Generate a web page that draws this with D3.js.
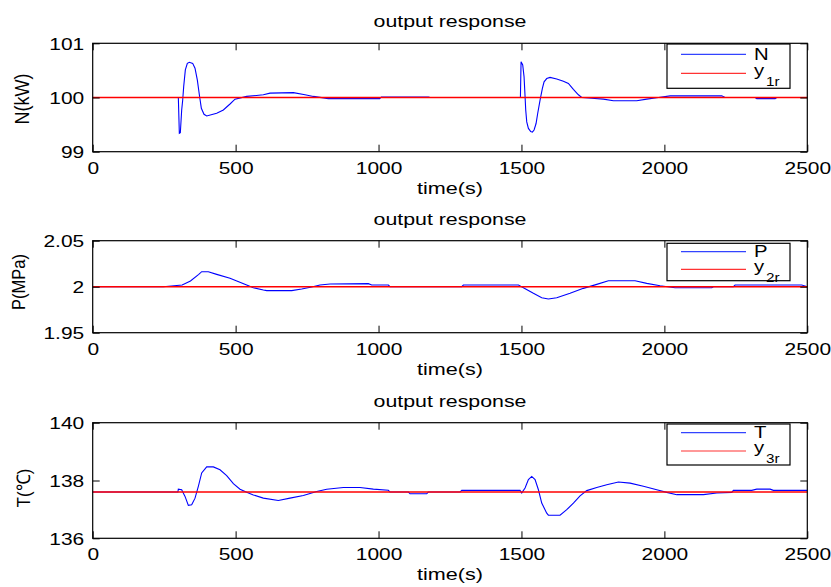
<!DOCTYPE html>
<html><head><meta charset="utf-8">
<script src="https://cdn.jsdelivr.net/npm/d3@7"></script>
<style>
body{margin:0;background:#fff}
svg{display:block}
text{font-family:"Liberation Sans",Arial,sans-serif;fill:#000}
</style>
</head><body>
<svg id="c" width="831" height="587"></svg>
<script>
// ---------------- data ----------------
const chartTitle = "output response";
const xLabel = "time(s)";
const timeTicks = [0, 500, 1000, 1500, 2000, 2500];

// Panel 1: N (kW)
const yLabelN = "N(kW)";
const yTicksN = [99, 100, 101];
const refN = 100;
const tN = [0, 299.6, 303.1, 306.6, 311.3, 314.8, 318.3, 324.1, 331.1, 338.1, 349.8, 357.9, 366.1, 373.1, 380.1, 389.4, 398.8, 433.8, 457.1, 480.4, 497.9, 538.7, 597, 620.4, 702, 742.8, 771.9, 824.4, 1004, 1010, 1175, 1180,
  1496.3, 1498.6, 1504.4, 1509.1, 1512.6, 1514.9, 1518.5, 1524.3, 1532.4, 1538.2, 1544.1, 1551.1, 1556.9, 1565.1, 1573.2, 1579.1, 1588.4, 1600, 1623.4, 1646.7, 1664.2, 1681.7, 1699.2, 1710.9, 1745.9, 1786.7, 1821.7, 1903.3, 1938.3, 1979.1, 2020, 2200.7, 2212.4, 2317.4, 2323.2, 2387.4, 2393.2, 2500];
const vN = [100, 100, 99.34, 99.35, 99.77, 99.95, 100.2, 100.51, 100.63, 100.65, 100.63, 100.54, 100.32, 100.05, 99.80, 99.69, 99.66, 99.71, 99.77, 99.88, 99.97, 100.02, 100.05, 100.08, 100.09, 100.05, 100.02, 99.98, 99.98, 100.01, 100.01, 100,
  100, 100.66, 100.60, 100.38, 100.02, 99.77, 99.55, 99.43, 99.37, 99.36, 99.40, 99.52, 99.71, 99.95, 100.17, 100.29, 100.35, 100.37, 100.34, 100.30, 100.26, 100.15, 100.05, 100.0, 99.985, 99.97, 99.94, 99.94, 99.97, 100.0, 100.03, 100.03, 100.0, 100.0, 99.98, 99.98, 100.0, 100.0];

// Panel 2: P (MPa)
const yLabelP = "P(MPa)";
const yTicksP = [1.95, 2, 2.05];
const refP = 2;
const tP = [0, 247, 313, 342, 371, 381.3, 404.6, 433.8, 480.4, 538.7, 562, 597, 608.7, 696.2, 731.2, 766.2, 795.3, 830.3, 964.4, 976.1, 1034.4, 1040.2,
  1291, 1296.8, 1489.3, 1506.8, 1541.7, 1570.9, 1594.2, 1623.4, 1670, 1716.7, 1763.4, 1804.2, 1897.5, 1938.3, 1985, 2037.4, 2165.8, 2171.5, 2241.5, 2247.4, 2480.6, 2500];
const vP = [2, 2, 2.0018, 2.0062, 2.0134, 2.0163, 2.0163, 2.0134, 2.0091, 2.0018, 1.9989, 1.9964, 1.9957, 1.9957, 1.9975, 1.9996, 2.0018, 2.0029, 2.0033, 2.0018, 2.0018, 2.0,
  2.0, 2.0018, 2.0018, 1.9989, 1.9928, 1.9880, 1.9866, 1.9880, 1.9928, 1.9982, 2.0025, 2.0065, 2.0065, 2.0036, 2.0011, 1.9989, 1.9989, 2.0, 2.0, 2.0018, 2.0018, 2.0];

// Panel 3: T (°C)
const yLabelT = "T(\u2103)";
const yTicksT = [136, 138, 140];
const refT = 137.6;
const tT = [0, 298, 299.6, 311.3, 323, 334.6, 346.3, 358, 369.6, 381.3, 398.8, 422.1, 445.4, 468.7, 492.1, 515.4, 538.7, 562, 597, 649.5, 690.3, 737, 783.6, 818.6, 876.9, 935.3, 981.9, 1034.4, 1040.2, 1104.4, 1110.2, 1168.5, 1174.4, 1285.2, 1291,
  1495.1, 1501, 1512.6, 1524.3, 1535.9, 1547.6, 1559.3, 1570.9, 1588.4, 1594.2, 1635, 1658.4, 1681.7, 1705, 1728.4, 1763.4, 1798.4, 1839.2, 1880, 1926.6, 1973.3, 2008.3, 2043.3, 2136.6, 2183.2, 2235.7, 2241.5, 2305.7, 2323.2, 2369.9, 2381.5, 2486.5, 2500];
const vT = [137.6, 137.6, 137.70, 137.68, 137.45, 137.14, 137.16, 137.39, 137.80, 138.26, 138.47, 138.47, 138.37, 138.17, 137.89, 137.70, 137.59, 137.50, 137.39, 137.31, 137.39, 137.48, 137.62, 137.70, 137.76, 137.76, 137.70, 137.66, 137.60, 137.60, 137.54, 137.54, 137.60, 137.60, 137.66,
  137.66, 137.57, 137.74, 138.03, 138.14, 138.03, 137.68, 137.22, 136.87, 136.80, 136.80, 136.99, 137.22, 137.47, 137.65, 137.76, 137.85, 137.95, 137.91, 137.80, 137.68, 137.59, 137.51, 137.51, 137.57, 137.59, 137.66, 137.66, 137.70, 137.70, 137.66, 137.66, 137.66];

const legendNames = [["N", "1r"], ["P", "2r"], ["T", "3r"]];

// ---------------- layout ----------------
const SX = 1.27;             // horizontal text stretch of the reference
const X0 = 92.7, X1 = 807.3;
const panels = [
  {t: tN, v: vN, ref: refN, ticks: yTicksN, label: yLabelN, dom: [99, 101], top: 43.3, bottom: 151.7,
   leg: {top: 44, bottom: 88.3, l1: 54.3, l2: 73.3}, yl: {x: 29, y: 99, size: 18}},
  {t: tP, v: vP, ref: refP, ticks: yTicksP, label: yLabelP, dom: [1.95, 2.05], top: 240.7, bottom: 332.7,
   leg: {top: 243.3, bottom: 280.7, l1: 251.7, l2: 269.3}, yl: {x: 25, y: 282, size: 16.5}},
  {t: tT, v: vT, ref: refT, ticks: yTicksT, label: yLabelT, dom: [136, 140], top: 422.7, bottom: 538.3,
   leg: {top: 424, bottom: 465, l1: 432.7, l2: 451}, yl: {x: 29.5, y: 488, size: 17}}
];

const svg = d3.select("#c");
const x = d3.scaleLinear().domain([0, 2500]).range([X0, X1]);

function stext(g, px, py, str, size, anchor) {
  return g.append("text")
    .attr("transform", `translate(${px},${py}) scale(${SX},1)`)
    .attr("text-anchor", anchor || "middle")
    .style("font-size", size + "px")
    .text(str);
}

panels.forEach((p, i) => {
  const y = d3.scaleLinear().domain(p.dom).range([p.bottom, p.top]);
  const g = svg.append("g");

  g.append("rect").attr("x", X0).attr("y", p.top).attr("width", X1 - X0).attr("height", p.bottom - p.top).attr("fill", "#fff");

  // data lines
  const data = p.t.map((t, k) => [t, p.v[k]]);
  const line = d3.line().x(d => x(d[0])).y(d => y(d[1]));
  g.append("path").datum(data).attr("d", line).attr("fill", "none").attr("stroke", "#0000ff").attr("stroke-width", 1.1);
  g.append("path").datum([[0, p.ref], [2500, p.ref]]).attr("d", line).attr("fill", "none")
    .attr("stroke", "#ff0000").attr("stroke-width", 1.4);

  // axes (inward ticks)
  const ax = [
    g.append("g").attr("transform", `translate(0,${p.bottom})`).call(d3.axisBottom(x).tickValues(timeTicks).tickSizeInner(-7).tickSizeOuter(0).tickFormat(d3.format("d"))),
    g.append("g").attr("transform", `translate(0,${p.top})`).call(d3.axisTop(x).tickValues(timeTicks).tickSizeInner(-7).tickSizeOuter(0).tickFormat("")),
    g.append("g").attr("transform", `translate(${X0},0)`).call(d3.axisLeft(y).tickValues(p.ticks).tickSizeInner(-7).tickSizeOuter(0).tickFormat(d => String(d))),
    g.append("g").attr("transform", `translate(${X1},0)`).call(d3.axisRight(y).tickValues(p.ticks).tickSizeInner(-7).tickSizeOuter(0).tickFormat(""))
  ];
  ax.forEach(a => {
    a.select(".domain").remove();
    a.selectAll("line").attr("stroke", "#000").attr("stroke-width", 1);
    a.attr("font-family", null).attr("font-size", null);
  });
  ax[0].selectAll("text").attr("y", 0).attr("dy", null)
    .attr("transform", `translate(0,22) scale(${SX},1)`).style("font-size", "16.5px").attr("fill", "#000");
  ax[2].selectAll("text").attr("x", 0).attr("dy", "0.36em")
    .attr("transform", `translate(-8.5,0) scale(${SX},1)`).style("font-size", "16.5px").attr("fill", "#000");

  // frame
  g.append("rect").attr("x", X0).attr("y", p.top).attr("width", X1 - X0).attr("height", p.bottom - p.top)
    .attr("fill", "none").attr("stroke", "#000").attr("stroke-width", 1.2);

  // titles and labels
  stext(g, (X0 + X1) / 2, p.top - 16, chartTitle, 16.8);
  stext(g, (X0 + X1) / 2, p.bottom + 42, xLabel, 17);
  g.append("text")
    .attr("transform", `translate(${p.yl.x},${p.yl.y}) scale(1.1,1) rotate(-90)`)
    .attr("text-anchor", "middle").style("font-size", p.yl.size + "px").text(p.label);

  // legend
  const L = p.leg, lx0 = 667, lx1 = 790;
  g.append("rect").attr("x", lx0).attr("y", L.top).attr("width", lx1 - lx0).attr("height", L.bottom - L.top)
    .attr("fill", "#fff").attr("stroke", "#000").attr("stroke-width", 1.2);
  g.append("line").attr("x1", 681).attr("x2", 746).attr("y1", L.l1).attr("y2", L.l1).attr("stroke", "#3344ff").attr("stroke-width", 1.2);
  g.append("line").attr("x1", 681).attr("x2", 746).attr("y1", L.l2).attr("y2", L.l2).attr("stroke", "#ff3333").attr("stroke-width", 1.2);
  const lt = g.append("text")
    .attr("transform", `translate(754,${L.l1 + 5.5}) scale(${SX},1)`)
    .style("font-size", "16px");
  lt.append("tspan").attr("x", 0).attr("y", 0).text(legendNames[i][0]);
  lt.append("tspan").attr("x", 0).attr("y", (L.l2 + 2.5) - (L.l1 + 5.5)).text("y");
  lt.append("tspan").attr("dx", "1.5").attr("dy", "10").style("font-size", "12px").text(legendNames[i][1]);
});
</script>
</body></html>
